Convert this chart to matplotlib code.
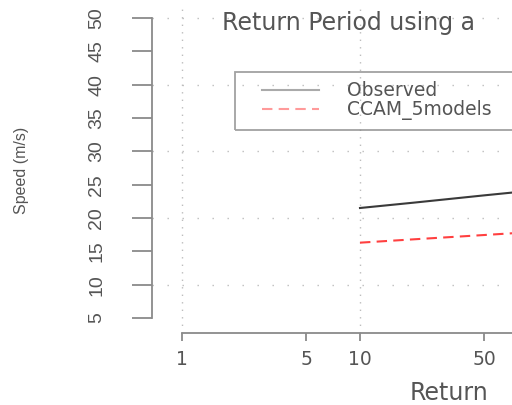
import matplotlib
matplotlib.use("Agg")
import matplotlib.pyplot as plt
from matplotlib.legend_handler import HandlerLine2D

# values (speed in m/s against return period in years)
return_period = [10, 20, 50, 100, 200, 500, 1000]
observed = [21.5, 22.3, 23.4, 24.2, 25.0, 26.1, 26.9]
ccam = [16.3, 16.8, 17.45, 17.95, 18.4, 19.1, 19.6]

x_ticks = [1, 5, 10, 50]
y_ticks = [5, 10, 15, 20, 25, 30, 35, 40, 45, 50]
x_grid = [1, 10, 100, 1000]
y_grid = [10, 20, 30, 40, 50]

title = "Return Period using a"
x_label = "Return"
y_label = "Speed (m/s)"
legend_labels = ["Observed", "CCAM_5models"]

W, H, DPI = 512, 405, 100
fig = plt.figure(figsize=(W / DPI, H / DPI), dpi=DPI)

# plot region in pixels (the original R plot is cut off on the right)
left_px, right_px, top_px, bottom_px = 152, 716, 3, 333
ax = fig.add_axes([left_px / W, 1 - bottom_px / H,
                   (right_px - left_px) / W, (bottom_px - top_px) / H])
ax.set_xscale("log")
ax.set_xlim(10 ** ((152 - 182) / 178), 1000)
ax.set_ylim(2.75, 52.25)

txt = "#555555"
axc = "#8a8a8a"
gridc = "#bdbdbd"

for g in x_grid:
    ax.axvline(g, color=gridc, lw=1.0, ls=(0, (1, 4.4)), zorder=0)
for g in y_grid:
    ax.axhline(g, color=gridc, lw=1.0, ls=(0, (1, 9.8)), zorder=0)

ax.plot(return_period, observed, color="#3a3a3a", lw=1.5, label=legend_labels[0])
ax.plot(return_period, ccam, color="#ff4040", lw=1.5, ls=(0, (5, 3)),
        label=legend_labels[1])

for s in ["top", "right"]:
    ax.spines[s].set_visible(False)
ax.spines["left"].set_bounds(5, 50)
ax.spines["bottom"].set_bounds(1, 1000)
for s in ["left", "bottom"]:
    ax.spines[s].set_color(axc)
    ax.spines[s].set_linewidth(1.3)

ax.set_xticks(x_ticks)
ax.set_xticklabels([str(v) for v in x_ticks])
ax.minorticks_off()
ax.set_yticks(y_ticks)
ax.set_yticklabels([str(v) for v in y_ticks], rotation=90, va="center",
                   family="Liberation Sans")
ax.tick_params(axis="x", length=6, width=1.3, color=axc, labelcolor=txt,
               labelsize=13.5, pad=6.5)
ax.tick_params(axis="y", length=14.5, width=1.3, color=axc, labelcolor=txt,
               labelsize=14, pad=19)

fig.text(222 / W, 1 - 23 / H, title, color=txt, fontsize=17,
         ha="left", va="center")
fig.text(410 / W, 1 - 393 / H, x_label, color=txt, fontsize=17,
         ha="left", va="center")
fig.text(22 / W, 1 - 170 / H, y_label, color=txt, fontsize=11.5,
         family="Liberation Sans", rotation=90, ha="center", va="center")

fs = 13.5
leg = ax.legend(loc="upper left",
                bbox_to_anchor=(235 / W, 1 - 127 / H, 340 / W, 55 / H),
                bbox_transform=fig.transFigure, mode="expand", fontsize=fs,
                frameon=True, fancybox=False, facecolor="none", edgecolor=axc,
                borderpad=0.5, labelspacing=0.0, handlelength=4.0,
                handletextpad=1.5, borderaxespad=0,
                handler_map={matplotlib.lines.Line2D: HandlerLine2D(xpad=0.95)})
leg.get_frame().set_linewidth(1.3)
for t in leg.get_texts():
    t.set_color(txt)
leg.get_lines()[0].set_color("#aaaaaa")
leg.get_lines()[1].set_color("#ff9a9a")

fig.savefig("out.png", dpi=DPI)
